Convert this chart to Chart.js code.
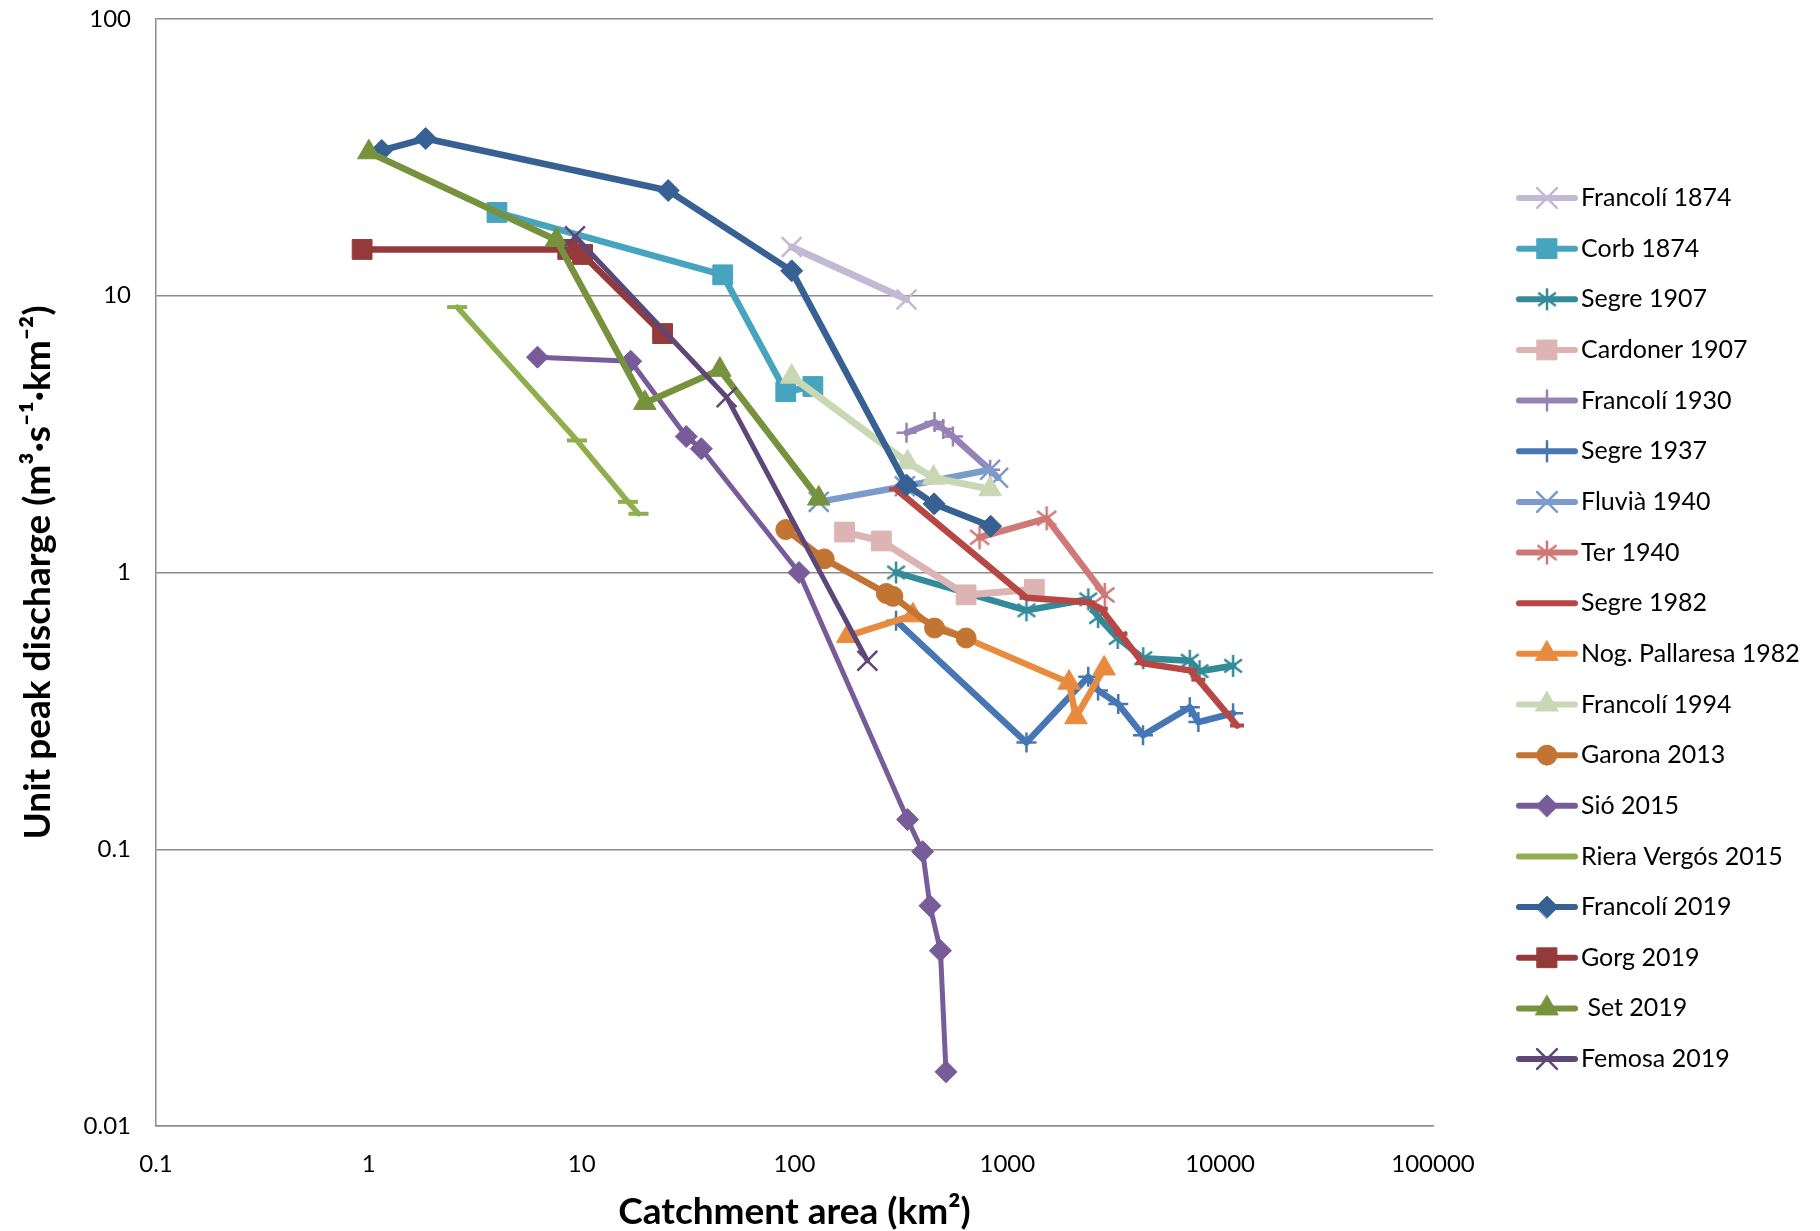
<!DOCTYPE html>
<html>
<head>
<meta charset="utf-8">
<script src="https://cdn.jsdelivr.net/npm/chart.js@4.4.1/dist/chart.umd.min.js"></script>
<style>
  html, body { margin: 0; padding: 0; background: #fff; }
  #wrap { width: 1820px; height: 1231px; }
</style>
</head>
<body>
<div id="wrap"><canvas id="grafico" width="1820" height="1231"></canvas></div>
<script>
// valores: [area km2, caudal unitario m3/s/km2]
const francoli1874 = [[97, 15], [336, 9.7]];
const corb1874 = [[4, 20], [46, 11.9], [91, 4.5], [122, 4.7]];
const segre1907 = [[300, 1.0], [1230, 0.73], [2400, 0.80], [2670, 0.69], [3300, 0.58], [4350, 0.49], [7200, 0.48], [8000, 0.44], [11500, 0.46]];
const cardoner1907 = [[172, 1.4], [256, 1.3], [640, 0.83], [1340, 0.87]];
const francoli1930 = [[336, 3.2], [455, 3.5], [500, 3.3], [555, 3.1], [830, 2.35]];
const segre1937 = [[300, 0.67], [1230, 0.243], [2400, 0.42], [2670, 0.375], [3320, 0.335], [4340, 0.258], [7200, 0.326], [7900, 0.288], [11500, 0.31]];
const fluvia1940 = [[130, 1.8], [330, 2.05], [830, 2.35], [905, 2.2]];
const ter1940 = [[740, 1.34], [1530, 1.57], [2870, 0.83]];
const segre1982 = [[300, 2.0], [1230, 0.81], [2400, 0.78], [2750, 0.74], [3400, 0.60], [4340, 0.47], [7200, 0.443], [7900, 0.41], [12000, 0.28]];
const nogPallaresa1982 = [[178, 0.59], [360, 0.70], [1950, 0.40], [2100, 0.30], [2850, 0.45]];
const francoli1994 = [[97, 5.1], [340, 2.5], [450, 2.2], [830, 2.0]];
const garona2013 = [[91, 1.43], [138, 1.12], [270, 0.84], [290, 0.82], [455, 0.63], [640, 0.58]];
const sio2015 = [[6.2, 6.0], [17, 5.8], [31, 3.1], [36.5, 2.8], [105, 1.0], [340, 0.128], [400, 0.098], [433, 0.0625], [485, 0.043], [515, 0.0157]];
const rieraVergos2015 = [[2.6, 9.1], [9.5, 3.0], [16.5, 1.8], [18.5, 1.63]];
const francoli2019 = [[1.15, 33.5], [1.85, 37], [25.5, 24], [97, 12.3], [336, 2.07], [453, 1.77], [835, 1.47]];
const gorg2019 = [[0.93, 14.7], [8.6, 14.7], [10.1, 14.1], [24, 7.3]];
const set2019 = [[1.0, 33], [7.6, 15.9], [19.8, 4.1], [44.6, 5.4], [130, 1.85]];
const femosa2019 = [[9.3, 16.4], [48, 4.3], [220, 0.48]];

const xTicks = [0.1, 1, 10, 100, 1000, 10000, 100000];
const yTicks = [0.01, 0.1, 1, 10, 100];

const nombres = ['Francolí 1874', 'Corb 1874', 'Segre 1907', 'Cardoner 1907', 'Francolí 1930', 'Segre 1937',
                 'Fluvià 1940', 'Ter 1940', 'Segre 1982', 'Nog. Pallaresa 1982', 'Francolí 1994', 'Garona 2013',
                 'Sió 2015', 'Riera Vergós 2015', 'Francolí 2019', 'Gorg 2019', ' Set 2019', 'Femosa 2019'];
const series = [francoli1874, corb1874, segre1907, cardoner1907, francoli1930, segre1937,
                fluvia1940, ter1940, segre1982, nogPallaresa1982, francoli1994, garona2013,
                sio2015, rieraVergos2015, francoli2019, gorg2019, set2019, femosa2019];

// estilos
const colores = ['#C2B9D5', '#46A4BF', '#338A99', '#DDB4B4', '#9782B6', '#4776B4',
                 '#7A9BCB', '#CF7877', '#B64744', '#E98B3E', '#C8D8B5', '#C27533',
                 '#785B99', '#8FAE4E', '#386193', '#953A3A', '#76923D', '#5E4677'];
const marcadores = ['crossRot', 'rect', 'asterisco', 'rect', 'cross', 'cross',
                    'crossRot', 'asterisco', 'line', 'triangle', 'triangle', 'circle',
                    'rectRot', 'line', 'rectRot', 'rect', 'triangle', 'crossRot'];
const radios = [14, 14, 11, 14, 10, 10, 14, 12, 7, 13, 13, 10, 11, 10, 11, 14, 13, 14];
const grosores = [7, 6.5, 6.5, 7, 6.5, 6.5, 6.5, 6.5, 6.5, 6.5, 7, 6.5, 5, 5.5, 6.5, 6.5, 6.5, 5];
const soloTrazo = ['crossRot', 'cross', 'asterisco', 'line'];

// asterisco de Excel: una X con una barra vertical
function asterisco(color, r) {
    const cv = document.createElement('canvas');
    const t = Math.ceil(r * 2 + 4);
    cv.width = t; cv.height = t;
    const g = cv.getContext('2d');
    const m = t / 2, d = r * 0.8;
    g.strokeStyle = color;
    g.lineWidth = 2.5;
    g.beginPath();
    g.moveTo(m, m - r); g.lineTo(m, m + r);
    g.moveTo(m - d, m - d * 0.75); g.lineTo(m + d, m + d * 0.75);
    g.moveTo(m - d, m + d * 0.75); g.lineTo(m + d, m - d * 0.75);
    g.stroke();
    return cv;
}

function estiloPunto(i) {
    return marcadores[i] === 'asterisco' ? asterisco(colores[i], radios[i]) : marcadores[i];
}

const leyenda = {
    id: 'leyenda',
    afterDraw(chart) {
        const c = chart.ctx;
        chart.data.datasets.forEach((ds, i) => {
            const y = 198 + i * 50.65;
            c.save();
            c.strokeStyle = ds.borderColor;
            c.lineWidth = 6;
            c.lineCap = 'round';
            c.beginPath();
            c.moveTo(1519, y);
            c.lineTo(1575, y);
            c.stroke();
            c.fillStyle = ds.pointBackgroundColor;
            c.strokeStyle = ds.pointBorderColor;
            c.lineWidth = ds.pointBorderWidth;
            Chart.helpers.drawPoint(c, {
                pointStyle: ds.pointStyle,
                radius: ds.pointRadius,
                rotation: 0,
                borderWidth: ds.pointBorderWidth
            }, 1547, y);
            c.fillStyle = '#000';
            c.font = '25px Lato';
            c.textBaseline = 'middle';
            c.textAlign = 'left';
            c.fillText(ds.label, 1581, y);
            c.restore();
        });
    }
};

Chart.defaults.font.family = 'Lato';

const ctx = document.getElementById('grafico').getContext('2d');
const grafico = new Chart(ctx, {
    type: 'scatter',
    data: {
        datasets: series.map((s, i) => ({
            label: nombres[i],
            data: s.map(p => ({ x: p[0], y: p[1] })),
            showLine: true,
            borderColor: colores[i],
            borderWidth: grosores[i],
            borderJoinStyle: 'round',
            borderCapStyle: 'round',
            pointStyle: estiloPunto(i),
            pointRadius: radios[i],
            pointHoverRadius: radios[i],
            pointBackgroundColor: colores[i],
            pointBorderColor: colores[i],
            pointBorderWidth: soloTrazo.includes(marcadores[i]) ? (marcadores[i] === 'line' ? 4 : 2.5) : 1,
            order: series.length - i
        }))
    },
    options: {
        responsive: false,
        animation: false,
        events: [],
        layout: { padding: { top: 19, right: 387, bottom: 0, left: 0 } },
        plugins: {
            legend: { display: false },
            tooltip: { enabled: false }
        },
        scales: {
            x: {
                type: 'logarithmic',
                min: 0.1,
                max: 100000,
                afterBuildTicks: s => { s.ticks = xTicks.map(v => ({ value: v })); },
                afterFit: s => { s.height = 105; },
                grid: { display: false, drawTicks: false },
                border: { display: true, color: '#8c8c8c', width: 1.5 },
                ticks: {
                    color: '#000',
                    font: { size: 24 },
                    padding: 24,
                    maxRotation: 0,
                    autoSkip: false,
                    callback: v => String(v)
                },
                title: {
                    display: true,
                    text: 'Catchment area (km²)',
                    color: '#000',
                    font: { size: 37, weight: 'bold' },
                    padding: { top: 0, bottom: -3 }
                }
            },
            y: {
                type: 'logarithmic',
                min: 0.01,
                max: 100,
                afterBuildTicks: s => { s.ticks = yTicks.map(v => ({ value: v })); },
                afterFit: s => { s.width = 156; s.paddingTop = 0; s.paddingBottom = 0; },
                grid: { color: '#8c8c8c', lineWidth: 1.5, drawTicks: false },
                border: { display: true, color: '#8c8c8c', width: 1.5 },
                ticks: {
                    color: '#000',
                    font: { size: 24 },
                    padding: 25,
                    autoSkip: false,
                    callback: v => String(v)
                },
                title: {
                    display: true,
                    text: 'Unit peak discharge (m³·s⁻¹·km⁻²)',
                    color: '#000',
                    font: { size: 37, weight: 'bold' },
                    padding: { top: 16, bottom: 0 }
                }
            }
        }
    },
    plugins: [leyenda]
});
</script>
</body>
</html>
